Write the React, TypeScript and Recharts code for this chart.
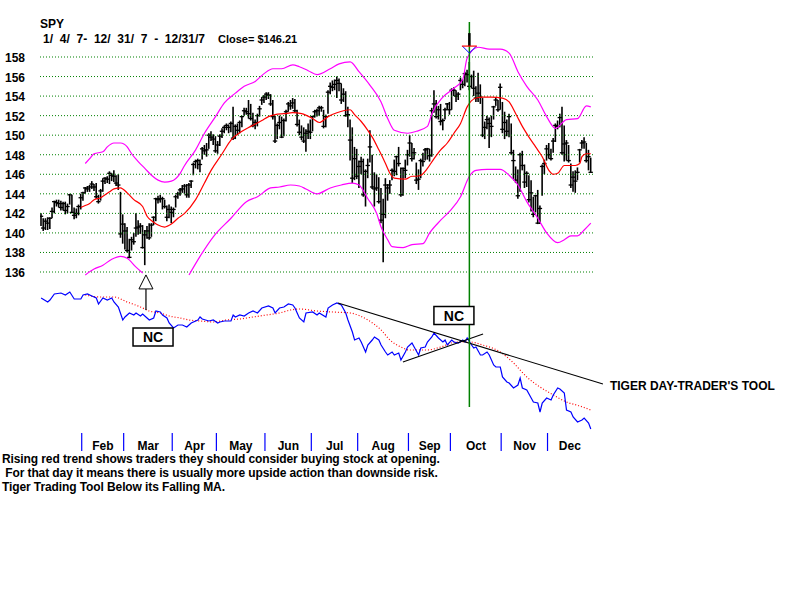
import { Bar, ComposedChart, Line, ReferenceDot, ReferenceLine, XAxis, YAxis } from 'recharts'

const FONT = '"Liberation Sans", Arial, sans-serif'

// daily SPY bars, 1/4/07 .. 12/31/07 (one row per trading day)
const highs = [
  142.0, 141.5, 141.5, 141.6, 141.6, 142.6, 143.3, 143.4, 143.4, 143.3, 143.2, 143.2, 143.0, 144.0, 143.9, 142.6, 142.5, 142.9, 144.0,
  144.2, 144.7, 144.8, 144.9, 145.3, 145.0, 145.1, 143.9, 144.5, 145.6, 145.7, 145.8, 146.3, 146.1, 146.4, 145.9, 146.0, 144.2, 141.9,
  141.0, 140.6, 139.4, 139.6, 140.0, 142.0, 141.3, 141.0, 140.8, 140.3, 140.7, 141.0, 141.0, 141.7, 143.6, 143.8, 143.9, 143.7, 143.4, 142.8, 142.9, 142.7,
  142.6, 143.9, 144.2, 144.6, 144.9, 145.0, 145.0, 145.1, 145.4, 147.2, 147.5, 147.6, 147.5, 148.8, 149.0, 149.2, 150.2, 150.4, 150.1, 149.9,
  149.4, 150.1, 150.7, 151.0, 151.2, 151.1, 151.4, 152.9, 151.1, 151.2, 151.5, 152.0, 152.8, 152.8, 153.6, 153.2, 152.3, 151.6, 152.2, 153.0, 153.9, 154.1,
  154.4, 154.4, 154.2, 153.6, 152.0, 151.2, 152.0, 151.9, 151.7, 152.6, 153.4, 153.6, 153.8, 153.7, 152.6, 151.6, 151.0, 150.8, 150.6, 151.2, 151.6,
  152.0, 152.6, 152.7, 153.0, 153.0, 152.6, 152.1, 154.6, 155.4, 155.6, 155.7, 156.0, 155.8, 155.3, 154.8, 154.5, 152.9, 151.6, 150.8, 148.8, 148.6,
  147.4, 147.8, 147.6, 146.5, 147.6, 150.5, 148.0, 146.2, 146.0, 145.7, 144.6, 143.5, 145.6, 145.0, 145.4, 146.6, 147.5, 147.9, 148.8, 146.7, 146.7, 147.5, 148.5,
  150.0, 149.2, 148.7, 147.2, 146.5, 147.6, 148.2, 148.7, 148.7, 148.6, 152.8, 154.6, 153.6, 153.0, 153.2, 151.7, 152.8, 153.3, 153.4,
  154.8, 154.9, 154.6, 154.4, 155.9, 155.7, 156.5, 156.7, 157.5, 156.2, 156.6, 155.0, 156.4, 155.2, 153.8, 151.4, 152.0, 151.8, 152.0, 153.0, 153.9, 153.6, 155.3,
  153.4, 152.4, 151.6, 152.2, 151.2, 148.5, 146.8, 146.5, 148.2, 148.4, 147.0, 146.3, 145.9, 145.4, 143.7, 143.9, 144.4, 142.8, 147.0, 147.5, 149.0,
  149.2, 148.6, 149.7, 151.2, 151.5, 152.2, 152.9, 151.0, 149.5, 149.0, 147.1, 146.3, 146.4, 146.7, 148.6, 149.5, 149.8, 149.2, 148.5, 147.7,
]
const lows = [
  140.7, 140.2, 140.3, 140.3, 140.4, 141.5, 142.0, 142.7, 142.6, 142.3, 142.3, 141.9, 142.0, 142.9, 142.0, 141.4, 141.5, 141.8, 142.4,
  143.3, 144.0, 144.2, 144.2, 144.5, 144.3, 143.5, 143.0, 143.3, 144.2, 145.0, 145.1, 145.0, 145.3, 145.2, 144.8, 144.4, 139.5, 138.9,
  138.3, 138.0, 137.4, 138.2, 138.8, 139.6, 139.8, 139.9, 138.4, 136.7, 139.4, 139.3, 139.6, 140.8, 141.2, 143.0, 143.1, 142.4, 142.5, 141.2, 141.5, 141.0,
  141.6, 142.6, 143.5, 143.8, 144.1, 144.0, 143.6, 143.6, 144.6, 145.9, 146.6, 146.5, 146.2, 147.5, 148.0, 147.8, 148.6, 149.4, 149.0, 148.2,
  148.1, 148.9, 149.7, 150.2, 150.5, 150.2, 150.3, 149.5, 149.6, 150.0, 150.2, 150.8, 152.0, 152.1, 151.7, 151.5, 150.8, 150.6, 150.9, 151.9, 153.1, 153.3,
  153.6, 153.7, 153.0, 151.6, 149.2, 149.6, 150.6, 149.7, 149.9, 151.4, 152.4, 152.6, 152.7, 152.3, 150.9, 150.0, 149.5, 149.2, 148.3, 149.6, 149.6,
  150.4, 151.8, 151.9, 152.0, 152.4, 150.7, 150.8, 152.2, 154.2, 154.5, 154.6, 153.8, 154.5, 153.2, 153.4, 151.9, 150.8, 147.4, 145.1, 145.4, 145.5,
  144.6, 146.0, 143.7, 142.7, 145.6, 147.2, 144.5, 142.7, 144.3, 143.0, 141.0, 137.0, 141.5, 143.3, 144.0, 145.4, 145.8, 145.9, 146.8, 143.7, 143.8, 145.6, 146.9,
  147.8, 147.3, 147.5, 145.0, 144.4, 145.6, 146.8, 147.4, 147.5, 147.3, 147.8, 152.3, 151.7, 151.6, 151.0, 150.5, 151.6, 152.6, 152.1,
  152.6, 154.0, 153.4, 153.6, 154.6, 154.8, 155.0, 155.4, 154.6, 154.8, 154.0, 153.4, 153.4, 153.2, 149.8, 149.6, 150.6, 148.7, 149.8, 151.6, 153.0, 152.4, 152.6,
  150.2, 149.6, 149.9, 149.8, 148.0, 145.5, 145.1, 143.5, 144.2, 146.4, 144.6, 144.7, 143.1, 142.2, 141.6, 142.1, 140.9, 140.9, 143.8, 146.0, 147.4,
  147.6, 147.4, 148.2, 149.3, 150.6, 150.8, 148.0, 147.3, 147.4, 147.2, 144.6, 144.2, 144.1, 145.4, 147.2, 148.6, 148.6, 147.2, 146.4, 146.2,
]
const closes = [
  141.7, 140.5, 141.2, 141.0, 141.5, 142.2, 143.2, 143.1, 143.0, 142.6, 143.0, 142.3, 142.7, 143.9, 142.1, 141.8, 142.0, 142.7, 143.6,
  144.1, 144.6, 144.5, 144.7, 145.0, 144.7, 143.7, 143.2, 144.3, 145.3, 145.6, 145.5, 146.1, 145.9, 145.8, 145.1, 144.9, 139.9, 140.9,
  140.2, 138.2, 137.5, 139.3, 139.1, 140.5, 140.6, 140.7, 138.5, 139.8, 140.2, 139.5, 140.8, 141.6, 143.5, 143.4, 143.5, 143.5, 142.7, 141.6, 142.4, 142.1,
  142.4, 143.7, 144.0, 144.4, 144.5, 144.8, 143.9, 144.9, 145.3, 147.0, 147.3, 147.4, 147.0, 148.6, 148.4, 148.5, 150.0, 149.8, 149.6, 148.4,
  149.0, 149.9, 150.4, 150.8, 151.0, 150.8, 151.2, 149.7, 150.9, 150.5, 151.3, 151.9, 152.5, 152.4, 152.2, 151.7, 151.0, 151.3, 152.0, 152.7, 153.6, 153.9,
  154.2, 154.1, 153.2, 151.9, 149.4, 151.0, 151.3, 149.8, 151.5, 152.4, 153.2, 153.0, 153.3, 152.5, 151.1, 150.3, 149.8, 149.4, 150.2, 150.4, 150.3,
  151.9, 152.4, 152.5, 152.8, 152.8, 150.9, 151.9, 154.4, 155.0, 154.9, 155.2, 155.6, 155.3, 153.6, 154.2, 152.0, 152.1, 149.5, 145.6, 147.6, 145.8,
  146.8, 147.3, 143.9, 146.3, 146.9, 148.8, 144.7, 144.5, 144.6, 143.2, 141.3, 141.9, 144.9, 144.6, 144.9, 146.4, 146.3, 147.8, 147.1, 143.9, 146.6, 146.4, 148.0,
  149.2, 147.6, 148.2, 145.4, 145.5, 147.4, 147.3, 148.5, 148.6, 147.9, 152.5, 153.2, 151.9, 152.6, 151.4, 151.5, 152.6, 153.2, 152.6,
  154.6, 154.6, 154.0, 154.2, 155.6, 155.2, 156.3, 156.2, 155.0, 156.0, 154.8, 153.8, 154.3, 153.9, 150.0, 150.8, 151.6, 151.2, 150.9, 152.9, 153.6, 152.6, 154.9,
  150.6, 151.3, 150.4, 151.9, 148.2, 147.4, 145.4, 143.8, 148.0, 146.9, 145.2, 146.1, 143.4, 144.1, 141.9, 143.8, 141.0, 142.5, 146.8, 147.1, 148.6,
  148.0, 147.6, 149.4, 151.0, 150.9, 151.8, 148.2, 149.1, 149.2, 147.4, 144.9, 145.7, 145.3, 146.2, 148.5, 149.2, 149.3, 147.4, 147.8, 146.2,
]

const months = ['Feb', 'Mar', 'Apr', 'May', 'Jun', 'Jul', 'Aug', 'Sep', 'Oct', 'Nov', 'Dec']
const monthStarts = [19, 38, 60, 80, 102, 123, 144, 167, 186, 209, 230]
const lastDay = 250

const priceTicks = [136, 138, 140, 142, 144, 146, 148, 150, 152, 154, 156, 158]

// [day, price] read along the red moving average and the magenta bands
const maPoints = [[18, 142.6], [20, 142.8], [22, 143.0], [24, 143.4], [27, 143.6], [29, 143.9], [31, 144.2], [33, 144.5], [36, 144.6], [37, 144.5], [39, 144.1], [42, 143.4], [46, 142.7], [48, 141.7], [51, 141.1], [53, 140.8], [56, 140.6], [59, 140.9], [62, 141.5], [65, 142.0], [70, 143.4], [74, 145.1], [77, 146.4], [82, 148.1], [86, 149.5], [91, 150.4], [95, 150.9], [100, 151.5], [103, 151.9], [106, 152.1], [110, 152.2], [114, 152.3], [118, 152.2], [123, 151.7], [126, 151.3], [130, 151.9], [134, 152.3], [140, 152.6], [142, 152.1], [145, 151.4], [148, 150.5], [150, 149.8], [153, 148.5], [156, 147.1], [158, 146.1], [160, 145.6], [165, 145.5], [168, 145.8], [170, 145.8], [172, 145.9], [175, 146.6], [178, 147.6], [181, 148.5], [184, 149.2], [187, 150.2], [190, 151.2], [193, 152.9], [197, 153.8], [200, 153.9], [204, 153.9], [209, 153.8], [212, 153.4], [215, 152.2], [218, 150.9], [221, 149.8], [224, 148.8], [227, 147.8], [230, 146.4], [232, 146.0], [234, 146.1], [237, 146.9], [242, 146.9], [244, 147.1], [245, 147.8], [247, 148.1], [249, 148.1]]
const upperBand = [[20, 147.1], [22, 147.6], [24, 148.1], [28, 148.3], [30, 148.8], [33, 149.2], [36, 149.2], [39, 148.8], [41, 148.1], [44, 147.3], [47, 146.6], [50, 145.9], [53, 145.4], [56, 145.2], [59, 145.3], [63, 146.1], [65, 146.9], [70, 148.5], [74, 150.2], [79, 151.9], [83, 153.3], [88, 154.3], [92, 155.0], [97, 155.5], [101, 156.3], [105, 156.8], [109, 156.8], [114, 157.2], [117, 157.0], [121, 156.6], [125, 156.2], [131, 156.8], [135, 157.3], [140, 157.5], [144, 156.5], [149, 155.1], [154, 153.4], [157, 151.7], [160, 150.5], [166, 150.2], [170, 150.4], [175, 150.9], [177, 152.2], [182, 153.9], [187, 154.8], [191, 155.7], [193, 157.9], [198, 159.0], [203, 158.8], [208, 158.8], [212, 158.4], [216, 156.5], [220, 155.0], [225, 153.6], [229, 151.9], [233, 150.7], [238, 151.6], [243, 151.7], [247, 153.0], [249, 152.9]]
const lowerBand = [[20, 135.7], [24, 136.3], [28, 136.7], [32, 137.3], [36, 137.6], [39, 137.4], [43, 136.5], [46, 135.9], [55, null], [67, 135.7], [72, 137.6], [78, 139.6], [86, 141.5], [93, 143.2], [98, 143.7], [104, 144.6], [108, 144.7], [113, 144.9], [117, 144.8], [120, 144.5], [125, 144.0], [131, 144.6], [136, 144.9], [141, 145.1], [144, 144.9], [148, 143.5], [152, 142.0], [154, 140.6], [157, 139.3], [159, 138.6], [164, 138.5], [168, 138.8], [173, 138.9], [176, 140.0], [181, 141.3], [185, 142.2], [190, 143.7], [194, 145.8], [197, 146.4], [202, 146.5], [208, 146.5], [212, 145.9], [216, 144.9], [220, 143.2], [225, 141.5], [229, 140.0], [234, 139.0], [237, 139.3], [240, 139.7], [243, 139.7], [246, 140.3], [249, 141.0]]

// Tiger day-trader's tool (lower panel) and its falling average, [day, value]
const toolPoints = [[0, 134], [3, 130], [4, 132], [6, 138], [9, 139], [11, 137], [13, 140], [15, 133], [18, 133], [19, 137], [21, 138], [23, 136], [25, 134], [26, 128], [28, 134], [30, 132], [32, 134], [33, 130], [35, 125], [37, 112], [38, 115], [40, 119], [42, 117], [43, 119], [45, 116], [46, 118], [48, 114], [49, 112], [51, 114], [52, 121], [54, 120], [55, 117], [57, 114], [58, 109], [60, 104], [62, 107], [64, 107], [66, 105], [68, 109], [71, 112], [72, 115], [73, 113], [76, 111], [78, 112], [80, 109], [81, 110], [83, 111], [86, 111], [87, 117], [88, 115], [90, 117], [92, 116], [94, 119], [96, 121], [98, 119], [100, 124], [103, 126], [105, 124], [106, 119], [108, 124], [110, 125], [112, 128], [114, 127], [115, 124], [116, 119], [117, 114], [119, 110], [120, 119], [123, 120], [125, 117], [126, 119], [129, 115], [130, 124], [132, 127], [134, 129], [136, 127], [138, 119], [139, 112], [141, 100], [142, 92], [144, 94], [145, 90], [147, 80], [148, 87], [150, 92], [151, 95], [153, 92], [154, 87], [156, 80], [157, 77], [159, 80], [160, 77], [162, 79], [163, 72], [165, 80], [166, 85], [168, 89], [169, 85], [171, 77], [172, 84], [174, 85], [175, 90], [177, 95], [178, 99], [180, 94], [182, 90], [183, 92], [184, 87], [186, 92], [187, 90], [189, 89], [191, 92], [192, 90], [193, 94], [195, 87], [196, 84], [197, 85], [199, 77], [200, 77], [202, 80], [203, 77], [205, 67], [206, 65], [208, 65], [209, 55], [211, 50], [212, 49], [214, 44], [216, 47], [217, 54], [218, 44], [220, 42], [222, 34], [223, 30], [225, 29], [226, 20], [227, 29], [229, 34], [231, 32], [232, 37], [234, 44], [235, 43], [237, 39], [238, 22], [240, 20], [241, 15], [243, 10], [245, 12], [246, 14], [248, 9], [249, 3]]
const toolAverage = [[20, 137], [27, 135], [33, 135], [39, 130], [45, 125], [49, 121], [54, 119], [58, 116], [63, 114], [67, 112], [72, 111], [78, 110], [84, 112], [90, 113], [96, 115], [102, 117], [108, 119], [113, 122], [117, 123], [125, 121], [132, 120], [140, 119], [148, 112], [154, 102], [158, 92], [163, 85], [167, 82], [175, 82], [181, 85], [188, 90], [194, 90], [200, 87], [208, 80], [214, 69], [220, 55], [226, 45], [232, 37], [238, 30], [244, 26], [249, 22]]
const trendLines = [[[134.5, 129], [254.5, 48]], [[163.9, 70], [200.2, 98]]]

const signalDay = 194
const bottomDay = 47.5

const bars = highs.map((h, i) => ({ day: i, high: h, low: lows[i], close: closes[i] }))
const rows = (pts: any[]) => pts.map(([day, v]) => ({ day, v }))
const monthMids = monthStarts.map((s, i) => ((s + (monthStarts[i + 1] ?? lastDay)) / 2) - 0.5)

function PriceBar(props: any) {
  const { x, y, width, height, payload } = props
  if (x == null || y == null || height == null) return null
  const top = Math.min(y, y + height)
  const bottom = Math.max(y, y + height)
  const cx = x + width / 2
  const span = payload.high - payload.low
  const cy = top + (span ? ((payload.high - payload.close) / span) * (bottom - top) : 0)
  return (
    <g>
      <line x1={cx} x2={cx} y1={top} y2={bottom} stroke="#000" strokeWidth={1.6} />
      <line x1={cx - 2.2} x2={cx + 2.2} y1={cy} y2={cy} stroke="#000" strokeWidth={1.3} />
    </g>
  )
}

function PriceTick({ y, payload }: any) {
  return <text x={5} y={y + 5} fontSize={12} fontWeight="bold" fontFamily={FONT} fill="#000">{payload.value}</text>
}

function MonthTick({ x, y, index }: any) {
  return <text x={x} y={y + 18} textAnchor="middle" fontSize={12} fontWeight="bold" fontFamily={FONT} fill="#000">{months[index]}</text>
}

function NcBox({ cx, cy }: any) {
  return (
    <g>
      <rect x={cx - 20} y={cy - 9} width={40} height={18} fill="#fff" stroke="#000" strokeWidth={1.5} />
      <text x={cx} y={cy + 5} textAnchor="middle" fontSize={14} fontWeight="bold" fontFamily={FONT} fill="#000">NC</text>
    </g>
  )
}

function UpArrow({ cx, cy }: any) {
  return (
    <g>
      <polygon points={`${cx},${cy} ${cx - 7},${cy + 14} ${cx + 7},${cy + 14}`} fill="#fff" stroke="#000" strokeWidth={1} />
      <line x1={cx} x2={cx} y1={cy + 14} y2={cy + 35} stroke="#000" strokeWidth={1.2} />
    </g>
  )
}

function DownArrow({ cx, cy }: any) {
  return (
    <g>
      <line x1={cx} x2={cx} y1={cy - 20} y2={cy - 7} stroke="#000" strokeWidth={2.5} />
      <polyline points={`${cx - 7},${cy - 7} ${cx},${cy} ${cx + 7},${cy - 7}`} fill="none" stroke="#0000ff" strokeWidth={1} />
      <line x1={cx - 7.5} x2={cx + 7.5} y1={cy - 7} y2={cy - 7} stroke="#ff0000" strokeWidth={1.2} />
    </g>
  )
}

function ToolLabel({ cx, cy }: any) {
  return <text x={cx + 7} y={cy + 6} fontSize={12} fontWeight="bold" fontFamily={FONT} fill="#000">TIGER DAY-TRADER'S TOOL</text>
}

export default function App() {
  return (
    <div style={{ position: 'absolute', left: 0, top: 0, width: 800, height: 600, background: '#fff', fontFamily: FONT, color: '#000' }}>
      <div style={{ position: 'absolute', left: 40, top: 18, fontSize: 12, lineHeight: '12px', fontWeight: 'bold' }}>SPY</div>
      <div style={{ position: 'absolute', left: 43, top: 33, fontSize: 12, lineHeight: '12px', fontWeight: 'bold', whiteSpace: 'pre', wordSpacing: 3.4 }}>1/ 4/ 7- 12/ 31/ 7 - 12/31/7</div>
      <div style={{ position: 'absolute', left: 218, top: 34, fontSize: 11, lineHeight: '11px', fontWeight: 'bold', whiteSpace: 'pre' }}>Close= $146.21</div>

      <ComposedChart width={800} height={460} data={bars} margin={{ top: 20, right: 207, bottom: 0, left: 0 }} style={{ position: 'absolute', left: 0, top: 0 }}>
        <XAxis dataKey="day" type="number" domain={[-0.5, lastDay]} allowDataOverflow ticks={monthMids} interval={0} height={28} axisLine={false} tickLine={false} tickSize={0} tickMargin={0} tick={<MonthTick />} />
        <YAxis yAxisId="price" domain={[119.628, 161.786]} allowDataOverflow ticks={priceTicks} interval={0} width={40} axisLine={false} tickLine={false} tick={<PriceTick />} />
        <YAxis yAxisId="tool" orientation="right" domain={[0, 412]} allowDataOverflow hide />

        {priceTicks.map(p => (
          <ReferenceLine key={p} yAxisId="price" y={p} stroke="#008000" strokeDasharray="1 2" />
        ))}
        {monthStarts.map(s => (
          <ReferenceLine key={s} yAxisId="tool" segment={[{ x: s - 0.6, y: -1 }, { x: s - 0.6, y: -19 }]} stroke="#0000ff" strokeWidth={1.2} ifOverflow="visible" />
        ))}

        <Bar yAxisId="price" dataKey={(d: any) => [d.low, d.high]} barSize={2} shape={<PriceBar />} isAnimationActive={false} />
        <Line yAxisId="price" data={rows(upperBand)} dataKey="v" type="monotone" stroke="#ff00ff" strokeWidth={1.2} dot={false} isAnimationActive={false} />
        <Line yAxisId="price" data={rows(lowerBand)} dataKey="v" type="monotone" stroke="#ff00ff" strokeWidth={1.2} dot={false} isAnimationActive={false} />
        <Line yAxisId="price" data={rows(maPoints)} dataKey="v" type="monotone" stroke="#ff0000" strokeWidth={1.2} dot={false} isAnimationActive={false} />

        <Line yAxisId="tool" data={rows(toolAverage)} dataKey="v" type="monotone" stroke="#ff0000" strokeWidth={1.2} strokeDasharray="1 2" dot={false} isAnimationActive={false} />
        <Line yAxisId="tool" data={rows(toolPoints)} dataKey="v" type="linear" stroke="#0000ff" strokeWidth={1.2} dot={false} isAnimationActive={false} />
        {trendLines.map((seg, i) => (
          <ReferenceLine key={i} yAxisId="tool" segment={seg.map(([x, y]) => ({ x, y }))} stroke="#000" strokeWidth={1.1} ifOverflow="visible" />
        ))}

        <ReferenceLine yAxisId="tool" segment={[{ x: signalDay, y: 410 }, { x: signalDay, y: 25 }]} stroke="#008000" strokeWidth={1.5} ifOverflow="visible" />
        <ReferenceDot yAxisId="price" x={signalDay} y={158.4} shape={<DownArrow />} ifOverflow="visible" />
        <ReferenceDot yAxisId="price" x={bottomDay} y={135.7} shape={<UpArrow />} ifOverflow="visible" />
        <ReferenceDot yAxisId="tool" x={50.7} y={95} shape={<NcBox />} ifOverflow="visible" />
        <ReferenceDot yAxisId="tool" x={187} y={116.5} shape={<NcBox />} ifOverflow="visible" />
        <ReferenceDot yAxisId="tool" x={254.5} y={48} shape={<ToolLabel />} ifOverflow="visible" />
      </ComposedChart>

      <div style={{ position: 'absolute', left: 2, top: 452, fontSize: 12, lineHeight: '14px', fontWeight: 'bold', whiteSpace: 'pre', letterSpacing: -0.1 }}>
        {'Rising red trend shows traders they should consider buying stock at opening.\n For that day it means there is usually more upside action than downside risk.\nTiger Trading Tool Below its Falling MA.'}
      </div>
    </div>
  )
}
